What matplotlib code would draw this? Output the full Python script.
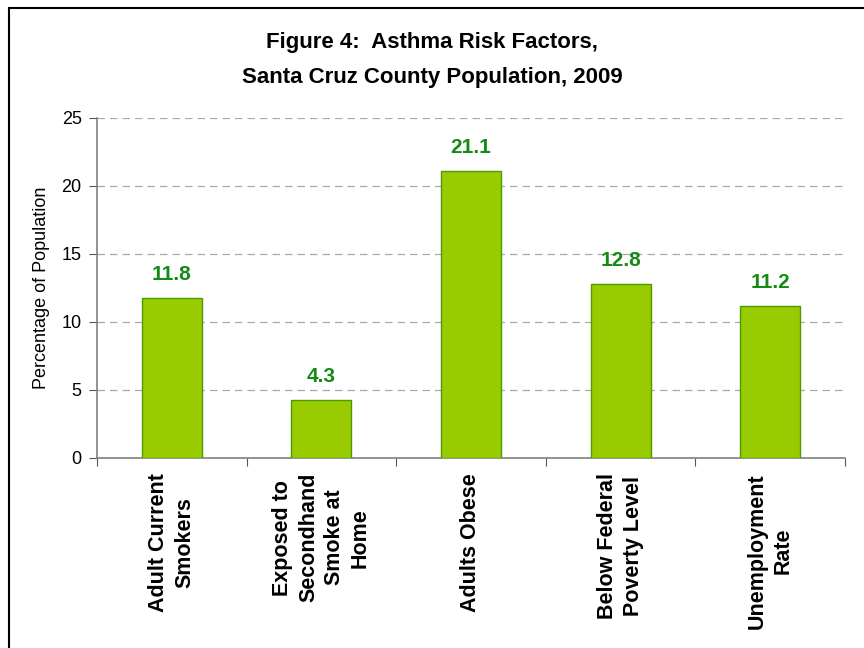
import matplotlib
matplotlib.use("Agg")
import matplotlib.pyplot as plt
from matplotlib.patches import Rectangle

plt.rcParams['font.family'] = ['Liberation Sans', 'DejaVu Sans']

categories = ["Adult Current\nSmokers", "Exposed to\nSecondhand\nSmoke at\nHome", "Adults Obese",
              "Below Federal\nPoverty Level", "Unemployment\nRate"]
values = [11.8, 4.3, 21.1, 12.8, 11.2]
yticks = [0, 5, 10, 15, 20, 25]
title = "Figure 4:  Asthma Risk Factors,\nSanta Cruz County Population, 2009"
ylabel = "Percentage of Population"

fig = plt.figure(figsize=(8.64, 6.48), dpi=100)
ax = fig.add_axes([97/864, 1-458/648, (845-97)/864, (458-118)/648])

x = list(range(len(values)))
ax.bar(x, values, width=0.4, color='#99CC00', edgecolor='#4C9A00', linewidth=1.0, zorder=3)
for xi, v in zip(x, values):
    ax.text(xi, v + 1.0, f"{v:.1f}", ha='center', va='bottom', color='#168A16',
            fontsize=15, fontweight='bold', zorder=4)

ax.set_xlim(-0.5, len(values) - 0.5)
ax.set_ylim(0, 25)
ax.set_yticks(yticks)
ax.set_yticklabels([str(t) for t in yticks], fontsize=13)
ax.yaxis.grid(True, linestyle=(0, (6, 4)), color='#AAAAAA', linewidth=0.9, zorder=0)
ax.set_axisbelow(True)

# category boundary ticks
ax.set_xticks([i - 0.5 for i in range(len(values) + 1)])
ax.set_xticklabels([])
ax.tick_params(axis='x', direction='out', length=6, color='#555555')
ax.tick_params(axis='y', direction='out', length=6, color='#555555', pad=5)
for xi, lab in zip(x, categories):
    ax.text(xi, -1.1, lab, rotation=90, ha='center', va='top', multialignment='center',
            fontsize=15.5, fontweight='bold', linespacing=1.3, transform=ax.transData)

for s in ['top', 'right']:
    ax.spines[s].set_visible(False)
ax.spines['left'].set_color('#808080')
ax.spines['bottom'].set_color('#808080')
ax.spines['left'].set_linewidth(1.2)
ax.spines['bottom'].set_linewidth(1.2)

ax.set_ylabel(ylabel, fontsize=13, labelpad=8)

fig.text(0.5, 1 - 60/648, title, ha='center', va='center', fontsize=16, fontweight='bold',
         linespacing=1.85)

# outer frame (left and top visible, others cropped)
fig.patches.append(Rectangle((8.5/864, -0.1), 1.2, 1.1 - 8.5/648, transform=fig.transFigure,
                             fill=False, edgecolor='black', linewidth=1.5, clip_on=False))

fig.savefig("out.png", dpi=100)
